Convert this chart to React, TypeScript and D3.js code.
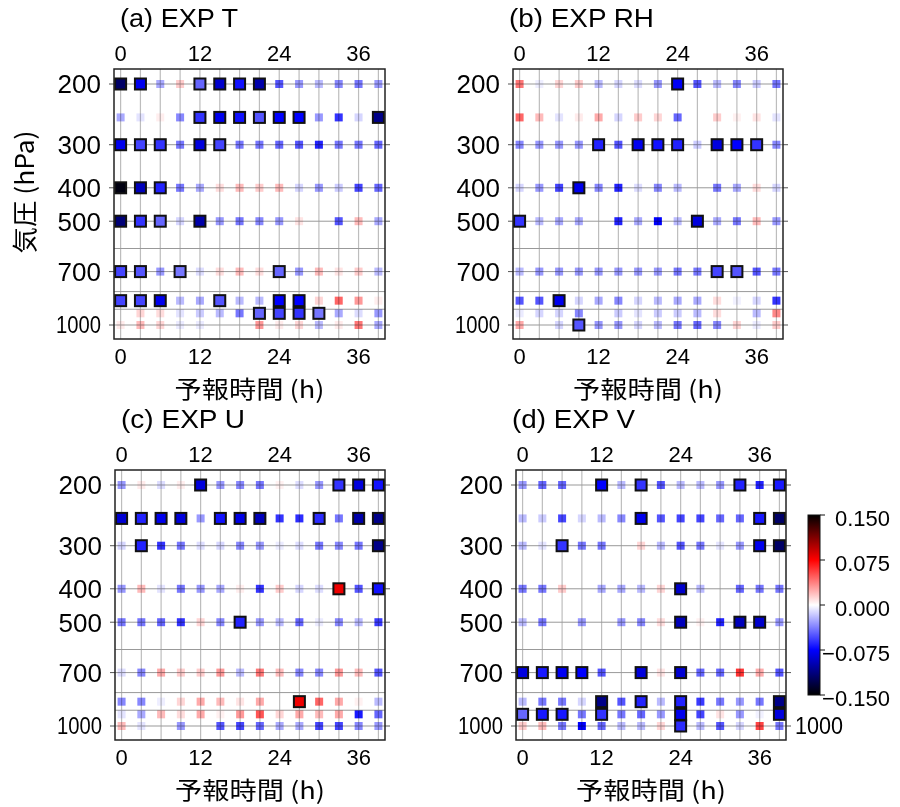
import React from "react";
import * as d3 from "d3";

const HOURS = [0, 3, 6, 9, 12, 15, 18, 21, 24, 27, 30, 33, 36, 39];
const LEVELS = [200, 250, 300, 400, 500, 700, 850, 925, 1000];
const X_TICKS = [0, 12, 24, 36];
const Y_TICKS = [200, 300, 400, 500, 700, 1000];
const GRID_LEVELS = [200, 300, 400, 500, 600, 700, 800, 900, 1000];
const CB_TICKS = [0.15, 0.075, 0, -0.075, -0.15];
const CB_LABELS = ["0.150", "0.075", "0.000", "\u22120.075", "\u22120.150"];

// rows: 200,250,300,400,500,700,850,925,1000 ; columns: HOURS
const T_VALUES = [
  [-0.12, -0.08, -0.025, 0.015, -0.045, -0.09, -0.07, -0.1, -0.05, -0.03, -0.02, -0.035, -0.04, -0.03],
  [-0.025, -0.008, 0.005, -0.035, -0.06, -0.08, -0.07, -0.05, -0.075, -0.075, -0.03, -0.06, -0.012, -0.11],
  [-0.08, -0.055, -0.06, -0.04, -0.085, -0.055, -0.04, -0.04, -0.045, -0.05, -0.065, -0.04, -0.04, -0.045],
  [-0.145, -0.095, -0.065, -0.04, -0.025, 0.01, 0.02, 0.015, 0.02, -0.012, -0.03, -0.015, -0.055, -0.045],
  [-0.115, -0.06, -0.045, -0.012, -0.1, -0.03, -0.04, -0.035, -0.03, 0.008, 0, -0.05, 0.02, -0.025],
  [-0.055, -0.05, -0.03, -0.04, -0.01, 0.01, 0.02, 0.01, -0.045, -0.03, 0.02, 0.008, 0.015, -0.02],
  [-0.055, -0.055, -0.08, -0.02, -0.025, -0.05, -0.02, -0.02, -0.075, -0.075, 0.012, 0.045, 0.03, 0.005],
  [0, 0.012, 0.01, -0.008, -0.015, -0.02, -0.04, -0.045, -0.055, -0.06, -0.04, -0.025, -0.01, -0.03],
  [0.006, 0.02, 0.012, -0.006, -0.006, 0, 0, 0.03, 0.006, 0.012, -0.02, 0.006, 0.04, -0.025],
];
const T_SIG = [
  "11001111000000",
  "00001111110001",
  "11101100000000",
  "11100000000000",
  "11101000000000",
  "11010000100000",
  "11100100110000",
  "00000001111000",
  "00000000000000",
];

const RH_VALUES = [
  [0.04, -0.005, 0.012, 0.015, -0.02, -0.012, -0.01, -0.03, -0.078, -0.05, -0.02, -0.035, -0.015, -0.04],
  [0.045, 0.02, -0.008, 0.006, 0.025, -0.012, 0.015, 0.012, -0.045, 0, 0.015, 0.004, 0.008, -0.008],
  [-0.035, -0.03, -0.03, -0.03, -0.065, -0.05, -0.08, -0.07, -0.065, -0.015, -0.085, -0.075, -0.06, -0.035],
  [-0.012, -0.03, -0.055, -0.08, -0.035, -0.065, -0.01, -0.035, -0.02, 0, -0.04, -0.025, 0.01, -0.012],
  [-0.06, -0.02, -0.025, -0.025, 0, -0.065, -0.025, -0.075, -0.02, -0.085, -0.025, -0.04, 0.02, -0.03],
  [-0.02, -0.03, -0.03, -0.03, -0.03, -0.03, -0.03, -0.03, -0.04, -0.04, -0.055, -0.05, -0.05, -0.04],
  [-0.05, -0.05, -0.08, -0.012, -0.025, -0.035, -0.012, -0.02, -0.025, -0.025, 0.01, -0.004, -0.012, -0.06],
  [-0.006, -0.012, -0.012, -0.035, 0, -0.015, -0.008, -0.015, -0.015, -0.02, 0.01, 0, -0.02, 0.035],
  [0.025, 0, -0.012, -0.05, -0.03, -0.03, -0.012, -0.02, -0.04, -0.045, -0.035, 0.012, -0.006, 0.015],
];
const RH_SIG = [
  "00000000100000",
  "00000000000000",
  "00001011101110",
  "00010000000000",
  "10000000010000",
  "00000000001100",
  "00100000000000",
  "00000000000000",
  "00010000000000",
];

const U_VALUES = [
  [-0.03, 0.006, -0.01, 0.005, -0.085, -0.03, -0.035, -0.04, 0.004, -0.01, -0.03, -0.06, -0.085, -0.07],
  [-0.088, -0.065, -0.08, -0.085, -0.03, -0.07, -0.082, -0.095, -0.06, -0.062, -0.062, -0.04, -0.1, -0.11],
  [-0.012, -0.065, -0.06, -0.04, -0.01, -0.012, -0.035, -0.03, -0.006, -0.01, -0.04, -0.035, -0.04, -0.11],
  [-0.03, 0.02, -0.008, -0.04, -0.03, -0.025, 0.005, -0.06, 0.015, -0.012, -0.01, 0.08, -0.05, -0.07],
  [-0.04, -0.04, -0.045, -0.06, 0.012, -0.035, -0.065, -0.03, -0.02, -0.045, -0.006, -0.035, -0.02, -0.058],
  [-0.01, -0.035, 0.025, 0.015, 0.015, 0.03, -0.02, 0.04, 0.02, -0.035, -0.035, 0.03, 0.02, -0.05],
  [-0.035, -0.035, -0.005, 0.012, 0.025, 0.02, 0.008, 0.025, 0, 0.08, 0.045, 0.025, 0.004, -0.02],
  [-0.008, -0.025, 0.02, 0.01, 0.025, 0.004, 0.03, 0.05, 0.012, 0.025, 0.02, 0.025, -0.068, -0.045],
  [0.02, -0.008, 0, -0.03, 0, -0.05, -0.055, -0.045, -0.025, -0.025, -0.055, -0.055, -0.035, -0.03],
];
const U_SIG = [
  "00001000000111",
  "11110111001011",
  "01000000000001",
  "00000000000101",
  "00000010000000",
  "00000000000000",
  "00000000010000",
  "00000000000000",
  "00000000000000",
];

const V_VALUES = [
  [-0.03, -0.045, -0.045, 0, -0.075, -0.02, -0.06, -0.05, -0.02, -0.02, -0.03, -0.065, -0.065, -0.068],
  [-0.02, -0.015, -0.055, -0.012, -0.02, -0.035, -0.08, -0.05, -0.055, -0.055, -0.045, -0.045, -0.068, -0.12],
  [-0.02, -0.008, -0.06, -0.04, -0.04, 0, 0.012, -0.02, -0.05, -0.04, -0.008, -0.03, -0.08, -0.12],
  [-0.04, -0.04, 0.015, 0, -0.025, -0.025, -0.02, 0.012, -0.09, -0.02, 0, -0.045, -0.04, -0.04],
  [-0.02, -0.04, 0, -0.03, 0, -0.03, -0.035, 0.01, -0.095, 0.004, -0.065, -0.095, -0.09, -0.03],
  [-0.085, -0.068, -0.078, -0.075, -0.05, 0, -0.085, 0.008, -0.088, -0.045, -0.045, 0.06, 0.025, -0.05],
  [-0.02, -0.04, -0.04, -0.012, -0.11, -0.05, -0.065, -0.02, -0.065, -0.058, -0.04, -0.03, -0.04, -0.11],
  [-0.045, -0.068, -0.068, -0.04, -0.06, -0.04, -0.045, -0.03, -0.08, -0.055, 0.008, -0.03, -0.004, -0.085],
  [0.015, 0.02, -0.04, -0.075, -0.045, -0.02, -0.02, 0.012, -0.062, -0.02, -0.05, -0.012, 0.055, -0.04],
];
const V_SIG = [
  "00001010000101",
  "00000010000011",
  "00100000000011",
  "00000000100000",
  "00000000100110",
  "11110010100000",
  "00001010100001",
  "11101000100001",
  "00000000100000",
];

const LATIN = "'Liberation Sans', Arial, Helvetica, sans-serif";
const CJK = "'Noto Sans CJK JP', 'Liberation Sans', sans-serif";

const color = d3
  .scaleLinear<string>()
  .domain([-0.15, -0.075, 0, 0.075, 0.15])
  .range(["#000000", "#0000ff", "#ffffff", "#ff0000", "#000000"])
  .clamp(true);

type PanelProps = {
  left: number;
  top: number;
  w: number;
  h: number;
  title: string;
  titleDx: number;
  titleLen: number;
  values: number[][];
  sig: string[];
  yTitle?: boolean;
  rightLabel?: boolean;
};

function Panel({ left, top, w, h, title, titleDx, titleLen, values, sig, yTitle, rightLabel }: PanelProps) {
  const x = d3.scaleLinear().domain([-1, 40]).range([left, left + w]);
  const y = d3.scaleLog().domain([200, 1000]).range([top + 15, top + 256]);
  const right = left + w;
  const bottom = top + h;
  const cells: { hr: number; lv: number; v: number; s: boolean }[] = [];
  LEVELS.forEach((lv, i) =>
    HOURS.forEach((hr, j) => cells.push({ hr, lv, v: values[i][j], s: sig[i][j] === "1" }))
  );
  const small = 8;
  const big = 11;
  return (
    <g>
      <text x={left + titleDx} y={top - 42} fontFamily={LATIN} fontSize={25} textLength={titleLen} lengthAdjust="spacingAndGlyphs">
        {title}
      </text>
      {HOURS.map((hr) => (
        <line key={"v" + hr} x1={x(hr)} x2={x(hr)} y1={top} y2={bottom} stroke="#bdbdbd" strokeWidth={1.2} />
      ))}
      {GRID_LEVELS.map((lv) => (
        <line key={"h" + lv} x1={left} x2={right} y1={y(lv)} y2={y(lv)} stroke="#999" strokeWidth={1} />
      ))}
      {Y_TICKS.map((lv) => (
        <g key={"t" + lv}>
          <line x1={left - 5} x2={left} y1={y(lv)} y2={y(lv)} stroke="#555" strokeWidth={1} />
          <line x1={right} x2={right + 5} y1={y(lv)} y2={y(lv)} stroke="#555" strokeWidth={1} />
        </g>
      ))}
      <g style={{ mixBlendMode: "multiply" }}>
        {cells
          .filter((c) => !c.s)
          .map((c) => (
            <rect key={"c" + c.hr + "_" + c.lv} x={x(c.hr) - small / 2} y={y(c.lv) - small / 2} width={small} height={small} fill={color(c.v)} />
          ))}
      </g>
      {cells
        .filter((c) => c.s)
        .map((c) => (
          <rect
            key={"s" + c.hr + "_" + c.lv}
            x={x(c.hr) - big / 2}
            y={y(c.lv) - big / 2}
            width={big}
            height={big}
            fill={color(c.v)}
            stroke="#111"
            strokeWidth={2}
          />
        ))}
      <rect x={left} y={top} width={w} height={h} fill="none" stroke="#222" strokeWidth={1.5} />
      {X_TICKS.map((t) => (
        <g key={"x" + t}>
          <text x={x(t)} y={top - 8} textAnchor="middle" fontFamily={LATIN} fontSize={22}>
            {t}
          </text>
          <text x={x(t)} y={bottom + 25} textAnchor="middle" fontFamily={LATIN} fontSize={22}>
            {t}
          </text>
        </g>
      ))}
      {Y_TICKS.map((lv) =>
        lv === 1000 ? (
          <text key={"yl" + lv} x={left - 13} y={y(lv)} dy="0.36em" textAnchor="end" fontFamily={LATIN} fontSize={23} textLength={45} lengthAdjust="spacingAndGlyphs">
            {lv}
          </text>
        ) : (
          <text key={"yl" + lv} x={left - 13} y={y(lv)} dy="0.36em" textAnchor="end" fontFamily={LATIN} fontSize={26}>
            {lv}
          </text>
        )
      )}
      {rightLabel && (
        <text x={right + 9} y={y(1000)} dy="0.36em" fontFamily={LATIN} fontSize={23} textLength={48} lengthAdjust="spacingAndGlyphs">
          1000
        </text>
      )}
      <text x={(left + right) / 2} y={bottom + 59} textAnchor="middle" fontFamily={CJK} fontSize={24} textLength={150} lengthAdjust="spacingAndGlyphs">
        予報時間 (h)
      </text>
      {yTitle && (
        <text
          transform={`translate(${left - 89},${(top + bottom) / 2 - 12}) rotate(-90)`}
          textAnchor="middle"
          dy="0.36em"
          fontFamily={CJK}
          fontSize={25}
          textLength={123}
          lengthAdjust="spacingAndGlyphs"
        >
          気圧 (hPa)
        </text>
      )}
    </g>
  );
}

function Colorbar() {
  const cbTop = 515;
  const cbBottom = 695;
  const cbLeft = 808;
  const cbW = 12;
  const s = d3.scaleLinear().domain([-0.15, 0.15]).range([cbBottom, cbTop]);
  const stops = [0.15, 0.075, 0, -0.075, -0.15];
  return (
    <g>
      <defs>
        <linearGradient id="cbgrad" x1="0" x2="0" y1="0" y2="1">
          {stops.map((v, i) => (
            <stop key={i} offset={(s(v) - cbTop) / (cbBottom - cbTop)} stopColor={color(v)} />
          ))}
        </linearGradient>
      </defs>
      <rect x={cbLeft} y={cbTop} width={cbW} height={cbBottom - cbTop} fill="url(#cbgrad)" stroke="#111" strokeWidth={1} />
      {CB_TICKS.map((t, i) => (
        <g key={i}>
          <line x1={cbLeft + cbW} x2={cbLeft + cbW + 5} y1={s(t)} y2={s(t)} stroke="#111" strokeWidth={1} />
          <text x={890} y={s(t) + 3} dy="0.36em" textAnchor="end" fontFamily={LATIN} fontSize={22}>
            {CB_LABELS[i]}
          </text>
        </g>
      ))}
    </g>
  );
}

export default function App() {
  return (
    <svg width={900} height={807} style={{ position: "absolute", left: 0, top: 0, background: "#fff" }}>
      <rect x={0} y={0} width={900} height={807} fill="#fff" />
      <Panel left={114} top={69} w={271} h={270} title="(a) EXP T" titleDx={6} titleLen={118} values={T_VALUES} sig={T_SIG} yTitle />
      <Panel left={513} top={69} w={270} h={270} title="(b) EXP RH" titleDx={-4} titleLen={145} values={RH_VALUES} sig={RH_SIG} />
      <Panel left={115} top={470} w={270} h={270} title="(c) EXP U" titleDx={6} titleLen={124} values={U_VALUES} sig={U_SIG} />
      <Panel left={516} top={470} w={270} h={270} title="(d) EXP V" titleDx={-4} titleLen={123} values={V_VALUES} sig={V_SIG} rightLabel />
      <Colorbar />
    </svg>
  );
}
